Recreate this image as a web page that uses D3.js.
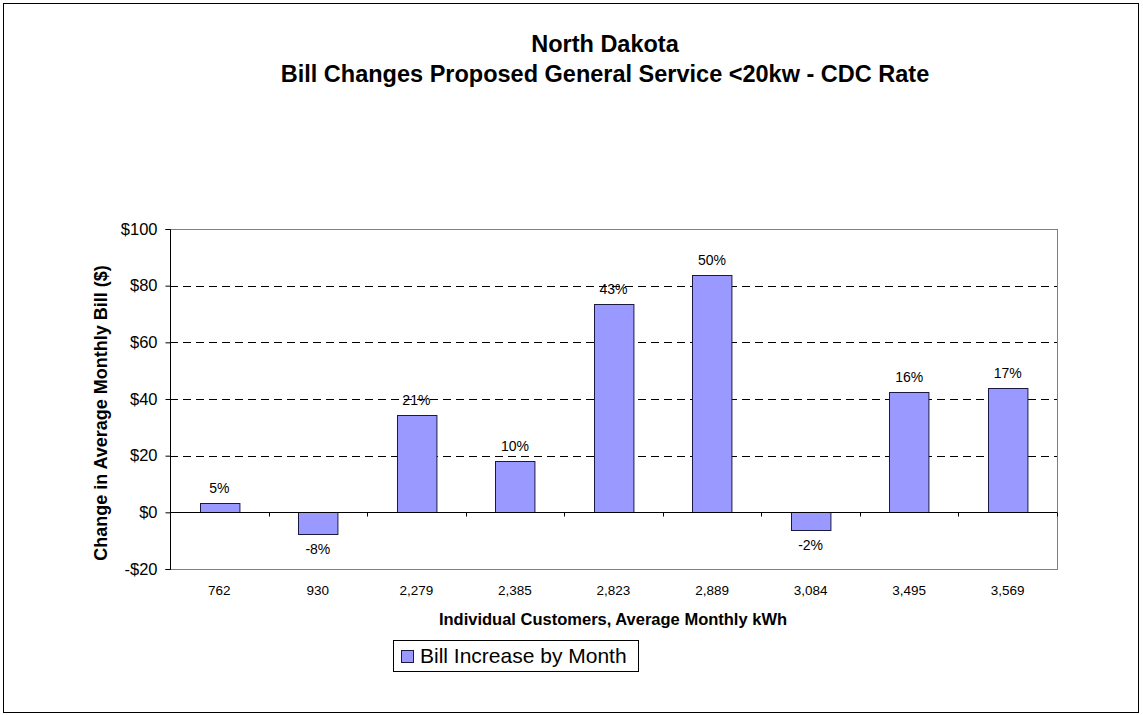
<!DOCTYPE html>
<html>
<head>
<meta charset="utf-8">
<script src="https://cdn.jsdelivr.net/npm/d3@7"></script>
<style>
  html, body { margin: 0; padding: 0; background: #fff; }
  svg { display: block; font-family: "Liberation Sans", Arial, sans-serif; }
</style>
</head>
<body>
<svg id="chart" width="1143" height="715"></svg>
<script>
const categories = ["762", "930", "2,279", "2,385", "2,823", "2,889", "3,084", "3,495", "3,569"];
const values = [3.4, -7.7, 34.3, 18.2, 73.6, 83.9, -6.3, 42.3, 43.8];
const pctLabels = ["5%", "-8%", "21%", "10%", "43%", "50%", "-2%", "16%", "17%"];
const yTicks = [-20, 0, 20, 40, 60, 80, 100];
const titleLines = ["North Dakota", "Bill Changes Proposed General Service <20kw  - CDC Rate"];
const yTitle = "Change in Average Monthly Bill  ($)";
const xTitle = "Individual Customers, Average Monthly kWh";
const seriesName = "Bill Increase by Month";

const svg = d3.select("#chart");
const plot = { left: 170, right: 1057, top: 229, bottom: 569 };

// outer border
svg.append("rect").attr("x", 3.5).attr("y", 3.5).attr("width", 1135).attr("height", 709)
  .attr("fill", "#fff").attr("stroke", "#000").attr("stroke-width", 1);

const x = d3.scaleBand().domain(categories).range([plot.left, plot.right]).paddingInner(0.6).paddingOuter(0.3);
const xb = d3.scaleBand().domain(categories).range([plot.left, plot.right]);
const y = d3.scaleLinear().domain([-20, 100]).range([plot.bottom, plot.top]);

// plot border (gray)
svg.append("rect").attr("x", plot.left + 0.5).attr("y", y(100) + 0.5)
  .attr("width", plot.right - plot.left).attr("height", y(-20) - y(100))
  .attr("fill", "none").attr("stroke", "#808080").attr("stroke-width", 1);

// gridlines
svg.append("g").selectAll("line").data(yTicks.filter(t => t > 0 && t < 100)).join("line")
  .attr("x1", plot.left).attr("x2", plot.right)
  .attr("y1", d => Math.round(y(d)) + 0.5).attr("y2", d => Math.round(y(d)) + 0.5)
  .attr("stroke", "#000").attr("stroke-dasharray", "8,5").attr("stroke-width", 1);

// bars
svg.append("g").selectAll("rect").data(values).join("rect")
  .attr("x", (d, i) => Math.round(x(categories[i])) + 0.5)
  .attr("y", d => Math.round(y(Math.max(0, d))) + 0.5)
  .attr("width", x.bandwidth())
  .attr("height", d => Math.abs(Math.round(y(d)) - Math.round(y(0))))
  .attr("fill", "#9999FF").attr("stroke", "#1a1a40").attr("stroke-width", 1);

// zero line
const zeroY = Math.round(y(0)) + 0.5;
svg.append("line").attr("x1", plot.left).attr("x2", plot.right).attr("y1", zeroY).attr("y2", zeroY)
  .attr("stroke", "#000");
// category tick marks on zero line
svg.append("g").selectAll("line").data(categories).join("line")
  .attr("x1", (d, i) => Math.round(plot.left + xb.step() * (i + 1)) + 0.5)
  .attr("x2", (d, i) => Math.round(plot.left + xb.step() * (i + 1)) + 0.5)
  .attr("y1", zeroY).attr("y2", zeroY + 4).attr("stroke", "#000");

// y axis
const yAxis = d3.axisLeft(y).tickValues(yTicks).tickSize(5).tickPadding(8)
  .tickFormat(d => (d < 0 ? "-$" : "$") + Math.abs(d));
const gy = svg.append("g").attr("transform", `translate(${plot.left + 0.5},0)`).call(yAxis);
gy.select(".domain").attr("stroke", "#000").attr("d", `M-5,${y(100)+0.5}H0V${y(-20)+0.5}H-5`);
gy.selectAll(".tick line").attr("stroke", "#000");
gy.selectAll(".tick text").attr("font-size", 16.5).attr("fill", "#000")
  .attr("font-family", "Liberation Sans, Arial, sans-serif");

// x labels
svg.append("g").selectAll("text").data(categories).join("text")
  .attr("x", d => xb(d) + xb.bandwidth() / 2).attr("y", 595)
  .attr("text-anchor", "middle").attr("font-size", 13.5).attr("fill", "#000").text(d => d);

// data labels
svg.append("g").selectAll("text").data(values).join("text")
  .attr("x", (d, i) => xb(categories[i]) + xb.bandwidth() / 2)
  .attr("y", d => d >= 0 ? y(d) - 10 : y(d) + 20)
  .attr("text-anchor", "middle").attr("font-size", 14).attr("fill", "#000")
  .text((d, i) => pctLabels[i]);

// titles
svg.append("g").selectAll("text").data(titleLines).join("text")
  .attr("x", 605).attr("y", (d, i) => 52 + i * 30)
  .attr("text-anchor", "middle").attr("font-size", 23.5).attr("font-weight", "bold").attr("fill", "#000")
  .text(d => d);

svg.append("text").attr("transform", `translate(107,413) rotate(-90)`)
  .attr("text-anchor", "middle").attr("font-size", 18).attr("font-weight", "bold").attr("fill", "#000")
  .text(yTitle);

svg.append("text").attr("x", 613).attr("y", 625)
  .attr("text-anchor", "middle").attr("font-size", 16.5).attr("font-weight", "bold").attr("fill", "#000")
  .text(xTitle);

// legend
const lg = svg.append("g");
lg.append("rect").attr("x", 393.5).attr("y", 640.5).attr("width", 245).attr("height", 31)
  .attr("fill", "#fff").attr("stroke", "#000");
lg.append("rect").attr("x", 401.5).attr("y", 650.5).attr("width", 12).attr("height", 12)
  .attr("fill", "#9999FF").attr("stroke", "#1a1a40");
lg.append("text").attr("x", 420).attr("y", 663).attr("font-size", 21).attr("fill", "#000").text(seriesName);
</script>
</body>
</html>
